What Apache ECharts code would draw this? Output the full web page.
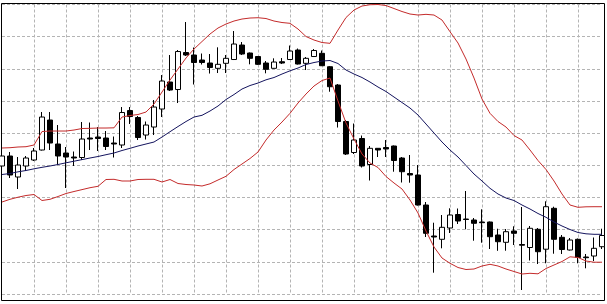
<!DOCTYPE html>
<html>
    <head>
        <meta charset="utf-8">
        <style>
            body { margin: 0; background: #fff; }
        </style>
    </head>
    <body>
        <div id="main" style="width:607px;height:304px"></div>
        <script src="https://cdn.jsdelivr.net/npm/echarts@6/dist/echarts.min.js"></script>
        <script type="text/javascript">
            // one category per bar, 76 bars
            var categories = [];
            for (var i = 0; i < 76; i++) categories.push('bar ' + (i + 1));

            var opens = [128, 138, 117, 128, 134, 144, 174, 150, 141, 137,
                136.5, 156, 157, 156, 151, 149, 183.5, 176.5, 159, 167,
                185, 212, 204.5, 241.5, 239, 234, 231, 225.7, 230.7, 234.5,
                249, 241, 237.5, 231, 225.7, 232.3, 234.5, 244, 230.7, 237.5,
                240.7, 227.3, 209, 172.5, 141.5, 155.5, 129.5, 145.7, 146.5, 148,
                136, 120.5, 119, 89, 58, 54.7, 66, 79.5, 75, 74,
                72, 72, 59, 51.7, 63, 49.5, 46.5, 64.7, 44.8, 85.7,
                56.7, 44, 54.7, 37, 38, 47.3];
            var closes = [138, 119, 129, 136, 143, 177, 151, 138, 137, 136,
                155, 155, 155.5, 147.5, 150, 181.5, 177.5, 156.5, 169, 187,
                213, 204, 242.5, 239, 231.5, 231.5, 226.5, 229.7, 235.7, 250,
                240, 235.7, 229.7, 224.7, 232, 231, 243, 230, 235.7, 243.5,
                228.3, 207.3, 172.5, 140, 154, 128, 145.7, 144, 145, 133.5,
                122.3, 119, 89, 60.7, 57, 66.7, 79, 73, 74.5, 70.7,
                71.3, 57.3, 52.3, 62.3, 60.7, 48.8, 65.7, 42.3, 87.3, 54.7,
                44.5, 54, 36.5, 36.3, 45.7, 58.5];
            var lows = [126, 116, 105, 123, 133, 143.5, 144, 129, 106, 128,
                134, 144, 143, 144, 136.5, 146, 170, 154, 154.5, 159,
                177, 203, 191, 238, 209.5, 229.5, 220.5, 221, 221, 234,
                239, 229.7, 229, 220.7, 225.5, 230, 234, 229.5, 224, 237,
                228, 202.3, 166.5, 139, 140, 126.5, 113.5, 137, 137, 122.3,
                111.5, 111.3, 88.5, 57, 21.3, 45.7, 61, 70, 64.7, 53.3,
                51.3, 45, 43.2, 43.3, 49, 4, 33.5, 30, 30.7, 40.3,
                40, 43.5, 30.7, 25.7, 33, 45];
            var highs = [140, 142, 137, 138, 146, 182, 182, 169, 147, 142.5,
                172, 171.5, 167, 163, 157.5, 187, 187, 178, 172.5, 194,
                219, 239, 244, 272, 246.5, 240.5, 240, 246.7, 239, 263,
                252, 241.5, 238, 233, 235.7, 236, 248.5, 245.5, 237, 245,
                243.5, 228, 210, 174, 170.5, 158.5, 148, 146, 154, 148.5,
                137, 139, 129, 92, 71.3, 79, 85.7, 85.5, 103, 76,
                84.7, 72.5, 65.3, 65, 67.7, 87, 68, 66, 92.7, 87.3,
                59, 56, 55.5, 40, 56.5, 65.3];

            // Bollinger bands
            var upperBand = [146, 146.3, 147, 147.3, 149, 162.5, 163, 163, 163, 164,
                165.5, 165.7, 166, 166, 166.2, 177, 178.5, 179.5, 182, 190,
                202, 214, 225, 236, 245, 252.5, 260, 266, 270, 273,
                275, 276, 276.3, 275.5, 273, 271.5, 270.7, 265, 257.5, 254,
                251.5, 250.7, 264, 276.5, 284, 288, 289.3, 289.5, 288.5, 285.5,
                282.5, 280, 279, 279.7, 279, 274, 262.3, 251, 235, 216,
                195, 180.7, 172.5, 167, 158.5, 154, 144, 133.5, 124.5, 113,
                100, 89, 86.7, 87.2, 87.3, 87.3];
            var middleBand = [119.5, 120.5, 122.2, 123.5, 125.2, 126.7, 128, 129.5, 131.2, 132.8,
                134.4, 136, 137.5, 139.3, 141, 143.5, 145.7, 148, 150, 152,
                157, 162.3, 167.5, 172.5, 177, 178.7, 183, 188, 194.5, 199.5,
                205, 208.5, 211, 214.2, 216.5, 220, 223.2, 226, 229.5, 231.5,
                233, 233.5, 230.5, 224, 220, 216.5, 212, 207, 202.5, 197,
                191.5, 186, 179, 170, 161, 152, 144, 137, 128.5, 120,
                113, 105.7, 100, 96, 93.5, 89, 85, 80.5, 76.7, 72,
                68, 64.5, 61.5, 60.2, 59.7, 59.7];
            var lowerBand = [92, 94.7, 96.8, 98.5, 99.5, 93.5, 94.7, 97.5, 100.5, 102.5,
                104.4, 106.3, 107.7, 114.5, 114.7, 113, 113, 114.5, 114.7, 114.7,
                112, 114.5, 110.5, 109.5, 109, 108, 110.2, 114, 117.7, 124.5,
                130, 135.5, 142, 154, 164, 172, 180.7, 191, 200, 208,
                213.5, 216, 193, 171, 155, 140, 131, 126.5, 117.5, 111,
                105, 94, 81, 63, 47, 36, 30.7, 26.5, 24.5, 25,
                28, 29.7, 28, 25, 22.5, 20, 20.7, 20.2, 25.5, 29,
                32.5, 37.2, 36.5, 33, 31.8, 31.8];

            var candles = opens.map(function (o, i) {
                return [o, closes[i], lows[i], highs[i]];
            });

            var gridColor = '#b4b4b4';
            var bandRed = '#c42b2b';

            function band(name, data, color) {
                return {
                    name: name,
                    type: 'line',
                    xAxisIndex: 1,
                    yAxisIndex: 1,
                    data: data,
                    showSymbol: false,
                    clip: false,
                    z: 3,
                    lineStyle: { color: color, width: 1 }
                };
            }

            var option = {
                animation: false,
                backgroundColor: '#fff',
                grid: [
                    // outer frame
                    { left: 1.5, top: 3.5, right: 2.5, bottom: 3.5, show: true,
                      borderColor: '#000', borderWidth: 1, backgroundColor: 'transparent' },
                    // price area
                    { left: 2, top: 4.5, right: 5, bottom: 10 }
                ],
                xAxis: [
                    { gridIndex: 0, type: 'value', show: false },
                    {
                        gridIndex: 1,
                        type: 'category',
                        data: categories,
                        boundaryGap: false,
                        axisLine: { show: false },
                        axisTick: { show: false },
                        axisLabel: { show: false },
                        splitLine: {
                            show: true,
                            interval: function (idx) { return idx > 0 && idx % 4 === 0; },
                            lineStyle: { color: gridColor, width: 1, type: [3, 2] }
                        }
                    }
                ],
                yAxis: [
                    { gridIndex: 0, type: 'value', show: false },
                    {
                        gridIndex: 1,
                        type: 'value',
                        min: 0,
                        max: 289.53,
                        interval: 32.17,
                        axisLine: { show: false },
                        axisTick: { show: false },
                        axisLabel: { show: false },
                        splitLine: {
                            show: true,
                            lineStyle: { color: gridColor, width: 1, type: [3, 2] }
                        }
                    }
                ],
                series: [
                    {
                        type: 'candlestick',
                        xAxisIndex: 1,
                        yAxisIndex: 1,
                        data: candles,
                        barWidth: 5,
                        clip: false,
                        z: 2,
                        itemStyle: {
                            color: '#fff',
                            color0: '#000',
                            borderColor: '#000',
                            borderColor0: '#000',
                            borderWidth: 1
                        }
                    },
                    band('Upper', upperBand, bandRed),
                    band('Middle', middleBand, '#14145e'),
                    band('Lower', lowerBand, bandRed)
                ]
            };

            var mychart = echarts.init(document.getElementById('main'), null, { renderer: 'canvas' });
            mychart.setOption(option);
        </script>
    </body>
</html>
